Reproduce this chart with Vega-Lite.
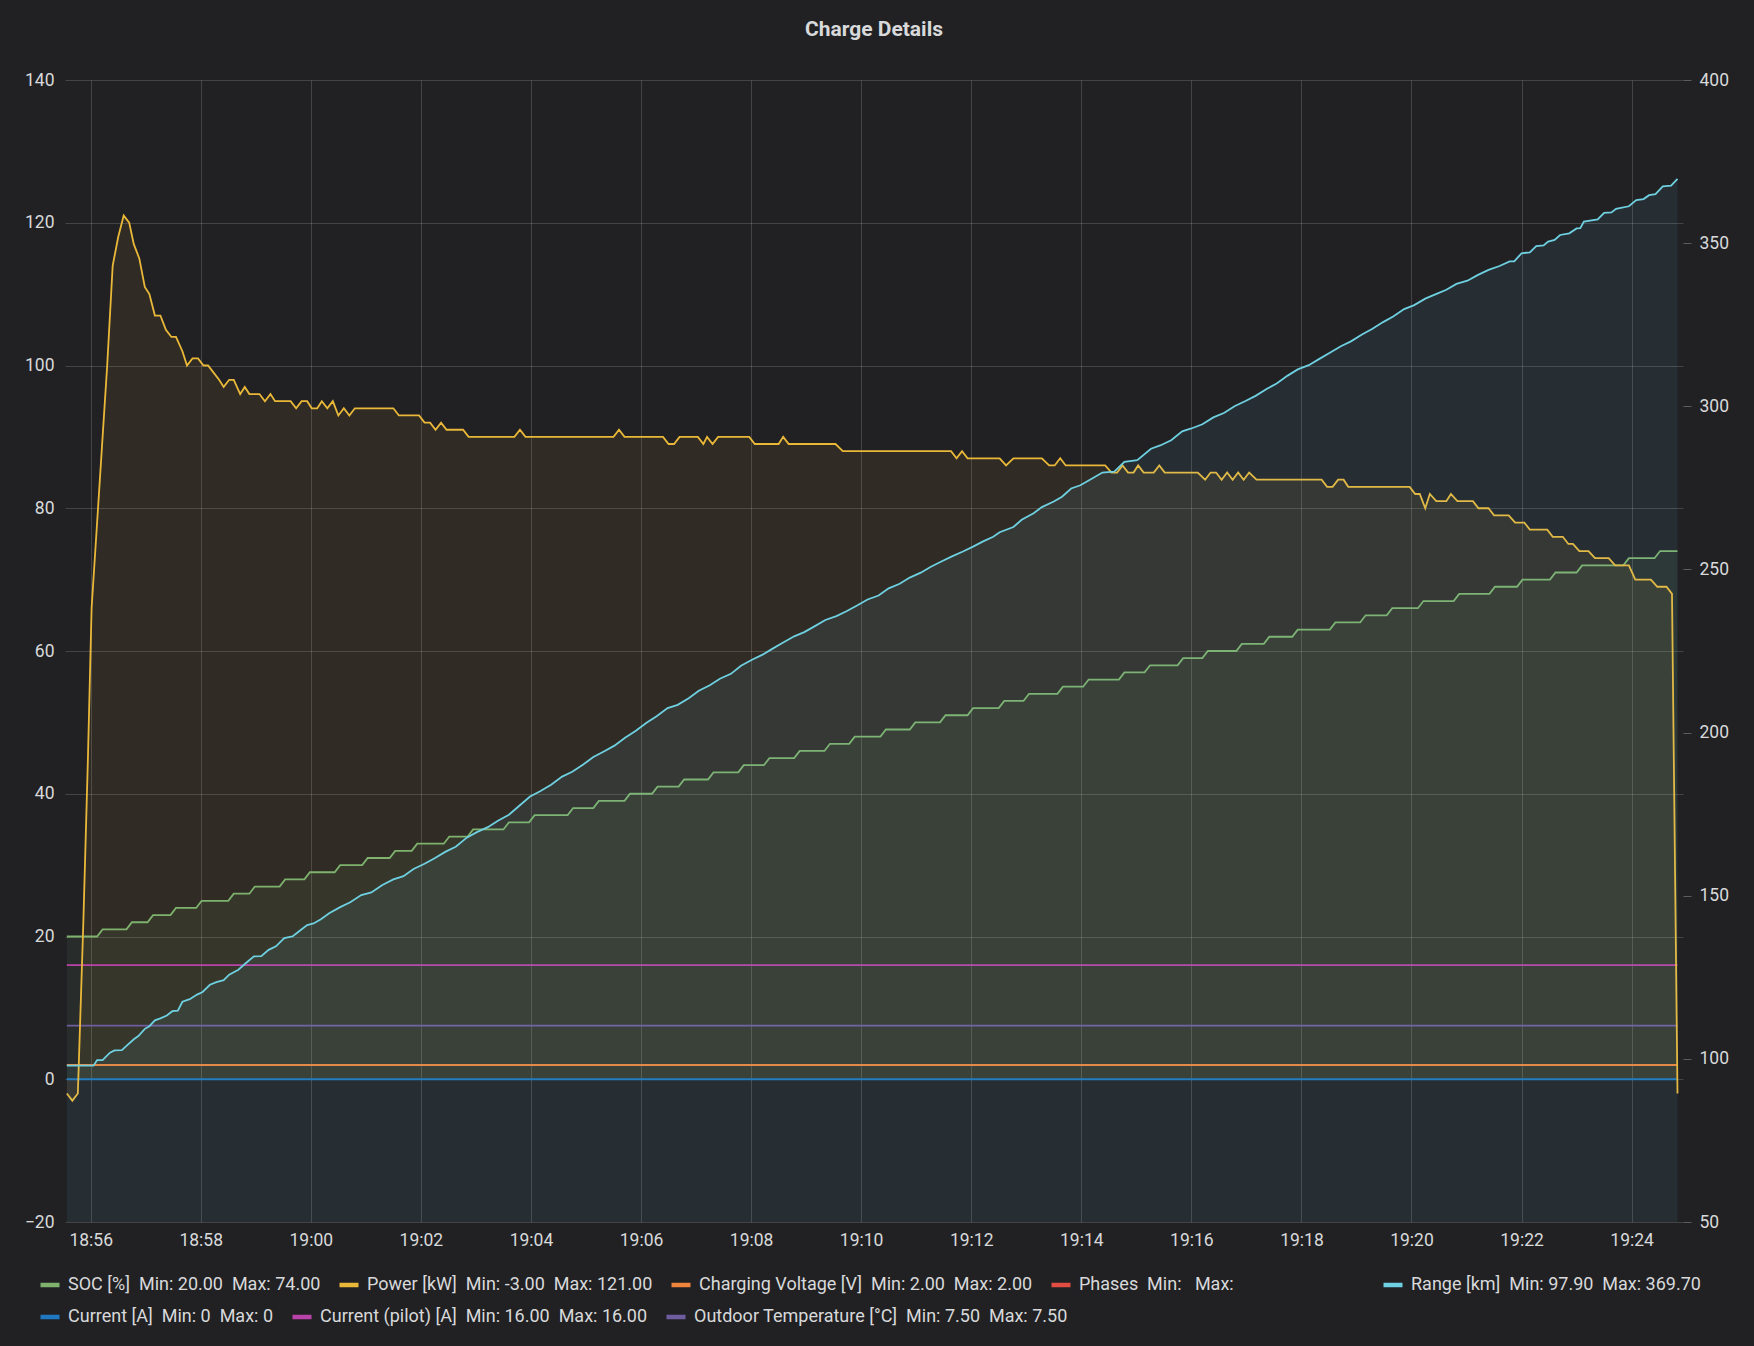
{
  "$schema": "https://vega.github.io/schema/vega-lite/v6.json",
  "width": 1618,
  "height": 1142,
  "autosize": "none",
  "padding": {"left": 65, "top": 80, "right": 71, "bottom": 124},
  "background": "#212124",
  "title": {
    "text": "Charge Details",
    "font": "Roboto",
    "fontSize": 21,
    "fontWeight": "bold",
    "color": "#d8d9da",
    "anchor": "middle",
    "offset": 31
  },
  "config": {
    "font": "Roboto",
    "view": {"stroke": null},
    "axis": {
      "labelFont": "Roboto",
      "labelFontSize": 17.5,
      "labelColor": "#d8d9da",
      "gridColor": "#ffffff",
      "gridOpacity": 0.16,
      "domain": false,
      "title": null
    },
    "legend": {
      "orient": "none",
      "title": null,
      "padding": 0,
      "direction": "horizontal",
      "symbolType": "stroke",
      "symbolStrokeWidth": 4.5,
      "symbolSize": 361,
      "symbolOpacity": 1,
      "labelOffset": 6,
      "columnPadding": 9,
      "labelFont": "Roboto",
      "labelFontSize": 18,
      "labelColor": "#d8d9da",
      "labelLimit": 2000
    }
  },
  "resolve": {"scale": {"y": "independent", "color": "independent"}},
  "layer": [
    {
      "data": {
        "format": {"parse": {"t": "utc:'%H:%M:%S'"}},
        "values": [
          {"t": "18:55:34", "s": "cv", "v": 2}, {"t": "19:24:50", "s": "cv", "v": 2},
          {"t": "18:55:34", "s": "cur", "v": 0}, {"t": "19:24:50", "s": "cur", "v": 0},
          {"t": "18:55:34", "s": "pil", "v": 16}, {"t": "19:24:50", "s": "pil", "v": 16},
          {"t": "18:55:34", "s": "tmp", "v": 7.5}, {"t": "19:24:50", "s": "tmp", "v": 7.5},

          {"t": "18:55:34", "s": "soc", "v": 20}, {"t": "18:56:07", "s": "soc", "v": 20},
          {"t": "18:56:13", "s": "soc", "v": 21}, {"t": "18:56:39", "s": "soc", "v": 21},
          {"t": "18:56:45", "s": "soc", "v": 22}, {"t": "18:57:02", "s": "soc", "v": 22},
          {"t": "18:57:08", "s": "soc", "v": 23}, {"t": "18:57:27", "s": "soc", "v": 23},
          {"t": "18:57:33", "s": "soc", "v": 24}, {"t": "18:57:55", "s": "soc", "v": 24},
          {"t": "18:58:01", "s": "soc", "v": 25}, {"t": "18:58:30", "s": "soc", "v": 25},
          {"t": "18:58:36", "s": "soc", "v": 26}, {"t": "18:58:53", "s": "soc", "v": 26},
          {"t": "18:58:59", "s": "soc", "v": 27}, {"t": "18:59:26", "s": "soc", "v": 27},
          {"t": "18:59:32", "s": "soc", "v": 28}, {"t": "18:59:53", "s": "soc", "v": 28},
          {"t": "18:59:59", "s": "soc", "v": 29}, {"t": "19:00:26", "s": "soc", "v": 29},
          {"t": "19:00:32", "s": "soc", "v": 30}, {"t": "19:00:56", "s": "soc", "v": 30},
          {"t": "19:01:02", "s": "soc", "v": 31}, {"t": "19:01:26", "s": "soc", "v": 31},
          {"t": "19:01:32", "s": "soc", "v": 32}, {"t": "19:01:50", "s": "soc", "v": 32},
          {"t": "19:01:56", "s": "soc", "v": 33}, {"t": "19:02:25", "s": "soc", "v": 33},
          {"t": "19:02:31", "s": "soc", "v": 34}, {"t": "19:02:51", "s": "soc", "v": 34},
          {"t": "19:02:57", "s": "soc", "v": 35}, {"t": "19:03:30", "s": "soc", "v": 35},
          {"t": "19:03:36", "s": "soc", "v": 36}, {"t": "19:03:58", "s": "soc", "v": 36},
          {"t": "19:04:04", "s": "soc", "v": 37}, {"t": "19:04:40", "s": "soc", "v": 37},
          {"t": "19:04:46", "s": "soc", "v": 38}, {"t": "19:05:08", "s": "soc", "v": 38},
          {"t": "19:05:14", "s": "soc", "v": 39}, {"t": "19:05:42", "s": "soc", "v": 39},
          {"t": "19:05:48", "s": "soc", "v": 40}, {"t": "19:06:12", "s": "soc", "v": 40},
          {"t": "19:06:18", "s": "soc", "v": 41}, {"t": "19:06:41", "s": "soc", "v": 41},
          {"t": "19:06:47", "s": "soc", "v": 42}, {"t": "19:07:13", "s": "soc", "v": 42},
          {"t": "19:07:19", "s": "soc", "v": 43}, {"t": "19:07:46", "s": "soc", "v": 43},
          {"t": "19:07:52", "s": "soc", "v": 44}, {"t": "19:08:14", "s": "soc", "v": 44},
          {"t": "19:08:20", "s": "soc", "v": 45}, {"t": "19:08:47", "s": "soc", "v": 45},
          {"t": "19:08:53", "s": "soc", "v": 46}, {"t": "19:09:20", "s": "soc", "v": 46},
          {"t": "19:09:26", "s": "soc", "v": 47}, {"t": "19:09:47", "s": "soc", "v": 47},
          {"t": "19:09:53", "s": "soc", "v": 48}, {"t": "19:10:21", "s": "soc", "v": 48},
          {"t": "19:10:27", "s": "soc", "v": 49}, {"t": "19:10:53", "s": "soc", "v": 49},
          {"t": "19:10:59", "s": "soc", "v": 50}, {"t": "19:11:26", "s": "soc", "v": 50},
          {"t": "19:11:32", "s": "soc", "v": 51}, {"t": "19:11:56", "s": "soc", "v": 51},
          {"t": "19:12:02", "s": "soc", "v": 52}, {"t": "19:12:30", "s": "soc", "v": 52},
          {"t": "19:12:36", "s": "soc", "v": 53}, {"t": "19:12:57", "s": "soc", "v": 53},
          {"t": "19:13:03", "s": "soc", "v": 54}, {"t": "19:13:34", "s": "soc", "v": 54},
          {"t": "19:13:40", "s": "soc", "v": 55}, {"t": "19:14:02", "s": "soc", "v": 55},
          {"t": "19:14:08", "s": "soc", "v": 56}, {"t": "19:14:41", "s": "soc", "v": 56},
          {"t": "19:14:47", "s": "soc", "v": 57}, {"t": "19:15:09", "s": "soc", "v": 57},
          {"t": "19:15:15", "s": "soc", "v": 58}, {"t": "19:15:45", "s": "soc", "v": 58},
          {"t": "19:15:51", "s": "soc", "v": 59}, {"t": "19:16:12", "s": "soc", "v": 59},
          {"t": "19:16:18", "s": "soc", "v": 60}, {"t": "19:16:49", "s": "soc", "v": 60},
          {"t": "19:16:55", "s": "soc", "v": 61}, {"t": "19:17:19", "s": "soc", "v": 61},
          {"t": "19:17:25", "s": "soc", "v": 62}, {"t": "19:17:50", "s": "soc", "v": 62},
          {"t": "19:17:56", "s": "soc", "v": 63}, {"t": "19:18:31", "s": "soc", "v": 63},
          {"t": "19:18:37", "s": "soc", "v": 64}, {"t": "19:19:04", "s": "soc", "v": 64},
          {"t": "19:19:10", "s": "soc", "v": 65}, {"t": "19:19:33", "s": "soc", "v": 65},
          {"t": "19:19:39", "s": "soc", "v": 66}, {"t": "19:20:07", "s": "soc", "v": 66},
          {"t": "19:20:13", "s": "soc", "v": 67}, {"t": "19:20:46", "s": "soc", "v": 67},
          {"t": "19:20:52", "s": "soc", "v": 68}, {"t": "19:21:25", "s": "soc", "v": 68},
          {"t": "19:21:31", "s": "soc", "v": 69}, {"t": "19:21:55", "s": "soc", "v": 69},
          {"t": "19:22:01", "s": "soc", "v": 70}, {"t": "19:22:31", "s": "soc", "v": 70},
          {"t": "19:22:37", "s": "soc", "v": 71}, {"t": "19:23:00", "s": "soc", "v": 71},
          {"t": "19:23:06", "s": "soc", "v": 72}, {"t": "19:23:51", "s": "soc", "v": 72},
          {"t": "19:23:57", "s": "soc", "v": 73}, {"t": "19:24:25", "s": "soc", "v": 73},
          {"t": "19:24:31", "s": "soc", "v": 74}, {"t": "19:24:50", "s": "soc", "v": 74},

          {"t": "18:55:34", "s": "pw", "v": -2}, {"t": "18:55:40", "s": "pw", "v": -3},
          {"t": "18:55:46", "s": "pw", "v": -2}, {"t": "18:55:52", "s": "pw", "v": 22},
          {"t": "18:55:57", "s": "pw", "v": 45}, {"t": "18:56:01", "s": "pw", "v": 66},
          {"t": "18:56:07", "s": "pw", "v": 78}, {"t": "18:56:12", "s": "pw", "v": 88},
          {"t": "18:56:18", "s": "pw", "v": 100}, {"t": "18:56:24", "s": "pw", "v": 114},
          {"t": "18:56:30", "s": "pw", "v": 118}, {"t": "18:56:36", "s": "pw", "v": 121},
          {"t": "18:56:42", "s": "pw", "v": 120}, {"t": "18:56:47", "s": "pw", "v": 117},
          {"t": "18:56:53", "s": "pw", "v": 115}, {"t": "18:56:59", "s": "pw", "v": 111},
          {"t": "18:57:04", "s": "pw", "v": 110}, {"t": "18:57:10", "s": "pw", "v": 107},
          {"t": "18:57:16", "s": "pw", "v": 107}, {"t": "18:57:22", "s": "pw", "v": 105},
          {"t": "18:57:28", "s": "pw", "v": 104}, {"t": "18:57:33", "s": "pw", "v": 104},
          {"t": "18:57:40", "s": "pw", "v": 102}, {"t": "18:57:45", "s": "pw", "v": 100},
          {"t": "18:57:51", "s": "pw", "v": 101}, {"t": "18:57:57", "s": "pw", "v": 101},
          {"t": "18:58:03", "s": "pw", "v": 100}, {"t": "18:58:08", "s": "pw", "v": 100},
          {"t": "18:58:14", "s": "pw", "v": 99}, {"t": "18:58:20", "s": "pw", "v": 98},
          {"t": "18:58:25", "s": "pw", "v": 97}, {"t": "18:58:31", "s": "pw", "v": 98},
          {"t": "18:58:36", "s": "pw", "v": 98}, {"t": "18:58:43", "s": "pw", "v": 96},
          {"t": "18:58:48", "s": "pw", "v": 97}, {"t": "18:58:53", "s": "pw", "v": 96},
          {"t": "18:59:04", "s": "pw", "v": 96}, {"t": "18:59:10", "s": "pw", "v": 95},
          {"t": "18:59:16", "s": "pw", "v": 96}, {"t": "18:59:21", "s": "pw", "v": 95},
          {"t": "18:59:38", "s": "pw", "v": 95}, {"t": "18:59:44", "s": "pw", "v": 94},
          {"t": "18:59:50", "s": "pw", "v": 95}, {"t": "18:59:56", "s": "pw", "v": 95},
          {"t": "19:00:01", "s": "pw", "v": 94}, {"t": "19:00:07", "s": "pw", "v": 94},
          {"t": "19:00:12", "s": "pw", "v": 95}, {"t": "19:00:18", "s": "pw", "v": 94},
          {"t": "19:00:24", "s": "pw", "v": 95}, {"t": "19:00:30", "s": "pw", "v": 93},
          {"t": "19:00:36", "s": "pw", "v": 94}, {"t": "19:00:42", "s": "pw", "v": 93},
          {"t": "19:00:48", "s": "pw", "v": 94}, {"t": "19:01:30", "s": "pw", "v": 94},
          {"t": "19:01:36", "s": "pw", "v": 93}, {"t": "19:01:58", "s": "pw", "v": 93},
          {"t": "19:02:04", "s": "pw", "v": 92}, {"t": "19:02:10", "s": "pw", "v": 92},
          {"t": "19:02:16", "s": "pw", "v": 91}, {"t": "19:02:22", "s": "pw", "v": 92},
          {"t": "19:02:28", "s": "pw", "v": 91}, {"t": "19:02:46", "s": "pw", "v": 91},
          {"t": "19:02:52", "s": "pw", "v": 90}, {"t": "19:03:42", "s": "pw", "v": 90},
          {"t": "19:03:48", "s": "pw", "v": 91}, {"t": "19:03:54", "s": "pw", "v": 90},
          {"t": "19:05:30", "s": "pw", "v": 90}, {"t": "19:05:36", "s": "pw", "v": 91},
          {"t": "19:05:42", "s": "pw", "v": 90}, {"t": "19:06:24", "s": "pw", "v": 90},
          {"t": "19:06:30", "s": "pw", "v": 89}, {"t": "19:06:36", "s": "pw", "v": 89},
          {"t": "19:06:42", "s": "pw", "v": 90}, {"t": "19:07:02", "s": "pw", "v": 90},
          {"t": "19:07:08", "s": "pw", "v": 89}, {"t": "19:07:12", "s": "pw", "v": 90},
          {"t": "19:07:18", "s": "pw", "v": 89}, {"t": "19:07:24", "s": "pw", "v": 90},
          {"t": "19:07:58", "s": "pw", "v": 90}, {"t": "19:08:04", "s": "pw", "v": 89},
          {"t": "19:08:30", "s": "pw", "v": 89}, {"t": "19:08:35", "s": "pw", "v": 90},
          {"t": "19:08:41", "s": "pw", "v": 89}, {"t": "19:09:32", "s": "pw", "v": 89},
          {"t": "19:09:40", "s": "pw", "v": 88}, {"t": "19:11:38", "s": "pw", "v": 88},
          {"t": "19:11:44", "s": "pw", "v": 87}, {"t": "19:11:50", "s": "pw", "v": 88},
          {"t": "19:11:56", "s": "pw", "v": 87}, {"t": "19:12:31", "s": "pw", "v": 87},
          {"t": "19:12:38", "s": "pw", "v": 86}, {"t": "19:12:46", "s": "pw", "v": 87},
          {"t": "19:13:17", "s": "pw", "v": 87}, {"t": "19:13:25", "s": "pw", "v": 86},
          {"t": "19:13:31", "s": "pw", "v": 86}, {"t": "19:13:37", "s": "pw", "v": 87},
          {"t": "19:13:43", "s": "pw", "v": 86}, {"t": "19:14:26", "s": "pw", "v": 86},
          {"t": "19:14:33", "s": "pw", "v": 85}, {"t": "19:14:39", "s": "pw", "v": 85},
          {"t": "19:14:45", "s": "pw", "v": 86}, {"t": "19:14:51", "s": "pw", "v": 85},
          {"t": "19:14:57", "s": "pw", "v": 85}, {"t": "19:15:02", "s": "pw", "v": 86},
          {"t": "19:15:08", "s": "pw", "v": 85}, {"t": "19:15:19", "s": "pw", "v": 85},
          {"t": "19:15:25", "s": "pw", "v": 86}, {"t": "19:15:31", "s": "pw", "v": 85},
          {"t": "19:16:07", "s": "pw", "v": 85}, {"t": "19:16:15", "s": "pw", "v": 84},
          {"t": "19:16:21", "s": "pw", "v": 85}, {"t": "19:16:27", "s": "pw", "v": 85},
          {"t": "19:16:33", "s": "pw", "v": 84}, {"t": "19:16:39", "s": "pw", "v": 85},
          {"t": "19:16:45", "s": "pw", "v": 84}, {"t": "19:16:51", "s": "pw", "v": 85},
          {"t": "19:16:57", "s": "pw", "v": 84}, {"t": "19:17:03", "s": "pw", "v": 85},
          {"t": "19:17:11", "s": "pw", "v": 84}, {"t": "19:18:22", "s": "pw", "v": 84},
          {"t": "19:18:28", "s": "pw", "v": 83}, {"t": "19:18:34", "s": "pw", "v": 83},
          {"t": "19:18:40", "s": "pw", "v": 84}, {"t": "19:18:46", "s": "pw", "v": 84},
          {"t": "19:18:51", "s": "pw", "v": 83}, {"t": "19:19:58", "s": "pw", "v": 83},
          {"t": "19:20:04", "s": "pw", "v": 82}, {"t": "19:20:09", "s": "pw", "v": 82},
          {"t": "19:20:15", "s": "pw", "v": 80}, {"t": "19:20:20", "s": "pw", "v": 82},
          {"t": "19:20:27", "s": "pw", "v": 81}, {"t": "19:20:38", "s": "pw", "v": 81},
          {"t": "19:20:43", "s": "pw", "v": 82}, {"t": "19:20:50", "s": "pw", "v": 81},
          {"t": "19:21:07", "s": "pw", "v": 81}, {"t": "19:21:13", "s": "pw", "v": 80},
          {"t": "19:21:24", "s": "pw", "v": 80}, {"t": "19:21:30", "s": "pw", "v": 79},
          {"t": "19:21:46", "s": "pw", "v": 79}, {"t": "19:21:53", "s": "pw", "v": 78},
          {"t": "19:22:03", "s": "pw", "v": 78}, {"t": "19:22:09", "s": "pw", "v": 77},
          {"t": "19:22:28", "s": "pw", "v": 77}, {"t": "19:22:34", "s": "pw", "v": 76},
          {"t": "19:22:45", "s": "pw", "v": 76}, {"t": "19:22:51", "s": "pw", "v": 75},
          {"t": "19:22:56", "s": "pw", "v": 75}, {"t": "19:23:03", "s": "pw", "v": 74},
          {"t": "19:23:13", "s": "pw", "v": 74}, {"t": "19:23:20", "s": "pw", "v": 73},
          {"t": "19:23:35", "s": "pw", "v": 73}, {"t": "19:23:42", "s": "pw", "v": 72},
          {"t": "19:23:57", "s": "pw", "v": 72}, {"t": "19:24:04", "s": "pw", "v": 70},
          {"t": "19:24:21", "s": "pw", "v": 70}, {"t": "19:24:28", "s": "pw", "v": 69},
          {"t": "19:24:38", "s": "pw", "v": 69}, {"t": "19:24:44", "s": "pw", "v": 68},
          {"t": "19:24:50", "s": "pw", "v": -2}
        ]
      },
      "encoding": {
        "x": {
          "field": "t",
          "type": "temporal",
          "scale": {
            "type": "utc",
            "domain": [
              {"year": 1900, "month": 1, "date": 1, "hours": 18, "minutes": 55, "seconds": 32, "utc": true},
              {"year": 1900, "month": 1, "date": 1, "hours": 19, "minutes": 24, "seconds": 56, "utc": true}
            ]
          },
          "axis": {
            "format": "%H:%M",
            "values": [
              {"year": 1900, "month": 1, "date": 1, "hours": 18, "minutes": 56, "utc": true},
              {"year": 1900, "month": 1, "date": 1, "hours": 18, "minutes": 58, "utc": true},
              {"year": 1900, "month": 1, "date": 1, "hours": 19, "minutes": 0, "utc": true},
              {"year": 1900, "month": 1, "date": 1, "hours": 19, "minutes": 2, "utc": true},
              {"year": 1900, "month": 1, "date": 1, "hours": 19, "minutes": 4, "utc": true},
              {"year": 1900, "month": 1, "date": 1, "hours": 19, "minutes": 6, "utc": true},
              {"year": 1900, "month": 1, "date": 1, "hours": 19, "minutes": 8, "utc": true},
              {"year": 1900, "month": 1, "date": 1, "hours": 19, "minutes": 10, "utc": true},
              {"year": 1900, "month": 1, "date": 1, "hours": 19, "minutes": 12, "utc": true},
              {"year": 1900, "month": 1, "date": 1, "hours": 19, "minutes": 14, "utc": true},
              {"year": 1900, "month": 1, "date": 1, "hours": 19, "minutes": 16, "utc": true},
              {"year": 1900, "month": 1, "date": 1, "hours": 19, "minutes": 18, "utc": true},
              {"year": 1900, "month": 1, "date": 1, "hours": 19, "minutes": 20, "utc": true},
              {"year": 1900, "month": 1, "date": 1, "hours": 19, "minutes": 22, "utc": true},
              {"year": 1900, "month": 1, "date": 1, "hours": 19, "minutes": 24, "utc": true}
            ],
            "grid": true,
            "ticks": false,
            "labelPadding": 9,
            "labelFlush": false,
            "labelOverlap": false
          }
        },
        "y": {
          "field": "v",
          "type": "quantitative",
          "scale": {"domain": [-20, 140], "nice": false, "zero": false},
          "axis": {
            "orient": "left",
            "values": [-20, 0, 20, 40, 60, 80, 100, 120, 140],
            "grid": true,
            "ticks": false,
            "labelPadding": 11
          }
        }
      },
      "layer": [
        {
          "transform": [{"filter": "datum.s == 'soc' || datum.s == 'pw'"}],
          "mark": {"type": "area", "fillOpacity": 0.08},
          "encoding": {
            "y": {"field": "v", "type": "quantitative", "stack": null},
            "y2": {"datum": 0},
            "fill": {
              "field": "s",
              "type": "nominal",
              "scale": {"domain": ["soc", "pw"], "range": ["#7EB26D", "#EAB839"]},
              "legend": null
            }
          }
        },
        {
          "transform": [{"filter": "datum.s == 'cur' || datum.s == 'pil' || datum.s == 'tmp'"}],
          "mark": {"type": "line", "strokeWidth": 1.8},
          "encoding": {
            "stroke": {
              "field": "s",
              "type": "nominal",
              "scale": {
                "domain": ["cur", "pil", "tmp"],
                "range": ["#1F78C1", "#BA43A9", "#705DA0"]
              },
              "legend": {
                "legendX": -27,
                "legendY": 1225,
                "labelExpr": "datum.label == 'cur' ? 'Current [A]\u00a0\u00a0Min: 0\u00a0\u00a0Max: 0' : datum.label == 'pil' ? 'Current (pilot) [A]\u00a0\u00a0Min: 16.00\u00a0\u00a0Max: 16.00' : 'Outdoor Temperature [°C]\u00a0\u00a0Min: 7.50\u00a0\u00a0Max: 7.50'"
              }
            }
          }
        },
        {
          "transform": [{"filter": "datum.s == 'soc' || datum.s == 'pw' || datum.s == 'cv'"}],
          "mark": {"type": "line", "strokeWidth": 1.8},
          "encoding": {
            "color": {
              "field": "s",
              "type": "nominal",
              "scale": {
                "domain": ["soc", "pw", "cv", "ph"],
                "range": ["#7EB26D", "#EAB839", "#EF843C", "#E24D42"]
              },
              "legend": {
                "legendX": -27,
                "legendY": 1193,
                "labelExpr": "datum.label == 'soc' ? 'SOC [%]\u00a0\u00a0Min: 20.00\u00a0\u00a0Max: 74.00' : datum.label == 'pw' ? 'Power [kW]\u00a0\u00a0Min: -3.00\u00a0\u00a0Max: 121.00' : datum.label == 'cv' ? 'Charging Voltage [V]\u00a0\u00a0Min: 2.00\u00a0\u00a0Max: 2.00' : 'Phases\u00a0\u00a0Min:\u00a0\u00a0\u00a0Max:'"
              }
            }
          }
        }
      ]
    },
    {
      "data": {
        "format": {"parse": {"t": "utc:'%H:%M:%S'"}},
        "values": [
          {"t": "18:55:34", "s": "rng", "v": 97.9}, {"t": "18:56:03", "s": "rng", "v": 97.9},
          {"t": "18:56:07", "s": "rng", "v": 99.6}, {"t": "18:56:13", "s": "rng", "v": 99.6},
          {"t": "18:56:21", "s": "rng", "v": 101.9}, {"t": "18:56:26", "s": "rng", "v": 102.6},
          {"t": "18:56:34", "s": "rng", "v": 102.7}, {"t": "18:56:39", "s": "rng", "v": 104},
          {"t": "18:56:47", "s": "rng", "v": 106}, {"t": "18:56:52", "s": "rng", "v": 107},
          {"t": "18:56:59", "s": "rng", "v": 109.2}, {"t": "18:57:04", "s": "rng", "v": 110},
          {"t": "18:57:10", "s": "rng", "v": 111.8}, {"t": "18:57:16", "s": "rng", "v": 112.4},
          {"t": "18:57:23", "s": "rng", "v": 113.3}, {"t": "18:57:29", "s": "rng", "v": 114.6},
          {"t": "18:57:35", "s": "rng", "v": 114.8}, {"t": "18:57:40", "s": "rng", "v": 117.5},
          {"t": "18:57:48", "s": "rng", "v": 118.3}, {"t": "18:57:56", "s": "rng", "v": 119.7},
          {"t": "18:58:02", "s": "rng", "v": 120.5}, {"t": "18:58:10", "s": "rng", "v": 122.7},
          {"t": "18:58:17", "s": "rng", "v": 123.5}, {"t": "18:58:25", "s": "rng", "v": 124.1},
          {"t": "18:58:31", "s": "rng", "v": 125.8}, {"t": "18:58:41", "s": "rng", "v": 127.3},
          {"t": "18:58:49", "s": "rng", "v": 129.3}, {"t": "18:58:58", "s": "rng", "v": 131.4},
          {"t": "18:59:06", "s": "rng", "v": 131.5}, {"t": "18:59:14", "s": "rng", "v": 133.4},
          {"t": "18:59:22", "s": "rng", "v": 134.5}, {"t": "18:59:31", "s": "rng", "v": 137},
          {"t": "18:59:40", "s": "rng", "v": 137.5}, {"t": "18:59:49", "s": "rng", "v": 139.5},
          {"t": "18:59:56", "s": "rng", "v": 141}, {"t": "19:00:03", "s": "rng", "v": 141.5},
          {"t": "19:00:11", "s": "rng", "v": 142.8}, {"t": "19:00:20", "s": "rng", "v": 144.6},
          {"t": "19:00:32", "s": "rng", "v": 146.5}, {"t": "19:00:43", "s": "rng", "v": 148},
          {"t": "19:00:55", "s": "rng", "v": 150.2}, {"t": "19:01:06", "s": "rng", "v": 151},
          {"t": "19:01:18", "s": "rng", "v": 153.3}, {"t": "19:01:30", "s": "rng", "v": 155},
          {"t": "19:01:41", "s": "rng", "v": 156}, {"t": "19:01:52", "s": "rng", "v": 158.2},
          {"t": "19:02:04", "s": "rng", "v": 159.8}, {"t": "19:02:15", "s": "rng", "v": 161.5},
          {"t": "19:02:27", "s": "rng", "v": 163.5}, {"t": "19:02:38", "s": "rng", "v": 165},
          {"t": "19:02:50", "s": "rng", "v": 167.8}, {"t": "19:03:01", "s": "rng", "v": 169.5},
          {"t": "19:03:13", "s": "rng", "v": 171}, {"t": "19:03:24", "s": "rng", "v": 173},
          {"t": "19:03:36", "s": "rng", "v": 174.8}, {"t": "19:03:47", "s": "rng", "v": 177.5},
          {"t": "19:03:59", "s": "rng", "v": 180.4}, {"t": "19:04:10", "s": "rng", "v": 182},
          {"t": "19:04:22", "s": "rng", "v": 184}, {"t": "19:04:34", "s": "rng", "v": 186.5},
          {"t": "19:04:45", "s": "rng", "v": 188}, {"t": "19:04:57", "s": "rng", "v": 190.2},
          {"t": "19:05:08", "s": "rng", "v": 192.5}, {"t": "19:05:20", "s": "rng", "v": 194.3},
          {"t": "19:05:31", "s": "rng", "v": 196}, {"t": "19:05:43", "s": "rng", "v": 198.5},
          {"t": "19:05:54", "s": "rng", "v": 200.5}, {"t": "19:06:06", "s": "rng", "v": 203},
          {"t": "19:06:17", "s": "rng", "v": 205}, {"t": "19:06:29", "s": "rng", "v": 207.5},
          {"t": "19:06:40", "s": "rng", "v": 208.5}, {"t": "19:06:52", "s": "rng", "v": 210.5},
          {"t": "19:07:03", "s": "rng", "v": 212.8}, {"t": "19:07:15", "s": "rng", "v": 214.5},
          {"t": "19:07:26", "s": "rng", "v": 216.5}, {"t": "19:07:38", "s": "rng", "v": 218},
          {"t": "19:07:49", "s": "rng", "v": 220.5}, {"t": "19:08:01", "s": "rng", "v": 222.3},
          {"t": "19:08:12", "s": "rng", "v": 223.8}, {"t": "19:08:24", "s": "rng", "v": 225.8},
          {"t": "19:08:35", "s": "rng", "v": 227.6}, {"t": "19:08:47", "s": "rng", "v": 229.5},
          {"t": "19:08:58", "s": "rng", "v": 230.8}, {"t": "19:09:10", "s": "rng", "v": 232.7},
          {"t": "19:09:21", "s": "rng", "v": 234.5}, {"t": "19:09:33", "s": "rng", "v": 235.7},
          {"t": "19:09:44", "s": "rng", "v": 237.2}, {"t": "19:09:56", "s": "rng", "v": 239},
          {"t": "19:10:07", "s": "rng", "v": 240.8}, {"t": "19:10:19", "s": "rng", "v": 242},
          {"t": "19:10:30", "s": "rng", "v": 244.2}, {"t": "19:10:42", "s": "rng", "v": 245.6},
          {"t": "19:10:53", "s": "rng", "v": 247.5}, {"t": "19:11:05", "s": "rng", "v": 249},
          {"t": "19:11:16", "s": "rng", "v": 250.8}, {"t": "19:11:28", "s": "rng", "v": 252.5},
          {"t": "19:11:39", "s": "rng", "v": 254}, {"t": "19:11:51", "s": "rng", "v": 255.5},
          {"t": "19:12:02", "s": "rng", "v": 257}, {"t": "19:12:13", "s": "rng", "v": 258.6},
          {"t": "19:12:24", "s": "rng", "v": 260}, {"t": "19:12:31", "s": "rng", "v": 261.4},
          {"t": "19:12:46", "s": "rng", "v": 263}, {"t": "19:12:55", "s": "rng", "v": 265.2},
          {"t": "19:13:08", "s": "rng", "v": 267.2}, {"t": "19:13:17", "s": "rng", "v": 269.1},
          {"t": "19:13:30", "s": "rng", "v": 270.8}, {"t": "19:13:39", "s": "rng", "v": 272.3},
          {"t": "19:13:49", "s": "rng", "v": 274.8}, {"t": "19:13:59", "s": "rng", "v": 275.8},
          {"t": "19:14:09", "s": "rng", "v": 277.4}, {"t": "19:14:23", "s": "rng", "v": 279.7},
          {"t": "19:14:36", "s": "rng", "v": 280}, {"t": "19:14:47", "s": "rng", "v": 283},
          {"t": "19:15:01", "s": "rng", "v": 283.5}, {"t": "19:15:16", "s": "rng", "v": 287},
          {"t": "19:15:26", "s": "rng", "v": 288}, {"t": "19:15:38", "s": "rng", "v": 289.6},
          {"t": "19:15:50", "s": "rng", "v": 292.3}, {"t": "19:16:00", "s": "rng", "v": 293.2},
          {"t": "19:16:12", "s": "rng", "v": 294.5}, {"t": "19:16:24", "s": "rng", "v": 296.6},
          {"t": "19:16:36", "s": "rng", "v": 298}, {"t": "19:16:47", "s": "rng", "v": 300},
          {"t": "19:16:59", "s": "rng", "v": 301.6}, {"t": "19:17:10", "s": "rng", "v": 303.2},
          {"t": "19:17:22", "s": "rng", "v": 305.3}, {"t": "19:17:33", "s": "rng", "v": 307},
          {"t": "19:17:45", "s": "rng", "v": 309.4}, {"t": "19:17:56", "s": "rng", "v": 311.3},
          {"t": "19:18:08", "s": "rng", "v": 312.6}, {"t": "19:18:20", "s": "rng", "v": 314.6},
          {"t": "19:18:31", "s": "rng", "v": 316.4}, {"t": "19:18:43", "s": "rng", "v": 318.4},
          {"t": "19:18:54", "s": "rng", "v": 319.9}, {"t": "19:19:06", "s": "rng", "v": 322},
          {"t": "19:19:17", "s": "rng", "v": 323.7}, {"t": "19:19:29", "s": "rng", "v": 325.8},
          {"t": "19:19:40", "s": "rng", "v": 327.5}, {"t": "19:19:52", "s": "rng", "v": 329.8},
          {"t": "19:20:03", "s": "rng", "v": 331}, {"t": "19:20:15", "s": "rng", "v": 333},
          {"t": "19:20:26", "s": "rng", "v": 334.3}, {"t": "19:20:38", "s": "rng", "v": 335.7},
          {"t": "19:20:49", "s": "rng", "v": 337.5}, {"t": "19:21:01", "s": "rng", "v": 338.5},
          {"t": "19:21:12", "s": "rng", "v": 340.2}, {"t": "19:21:24", "s": "rng", "v": 341.8},
          {"t": "19:21:36", "s": "rng", "v": 343}, {"t": "19:21:47", "s": "rng", "v": 344.4},
          {"t": "19:21:52", "s": "rng", "v": 344.4}, {"t": "19:22:00", "s": "rng", "v": 346.9},
          {"t": "19:22:09", "s": "rng", "v": 347.2}, {"t": "19:22:16", "s": "rng", "v": 349.1},
          {"t": "19:22:24", "s": "rng", "v": 349.3}, {"t": "19:22:29", "s": "rng", "v": 350.5},
          {"t": "19:22:36", "s": "rng", "v": 351}, {"t": "19:22:42", "s": "rng", "v": 352.5},
          {"t": "19:22:52", "s": "rng", "v": 353}, {"t": "19:23:00", "s": "rng", "v": 354.5},
          {"t": "19:23:04", "s": "rng", "v": 354.6}, {"t": "19:23:08", "s": "rng", "v": 356.6},
          {"t": "19:23:23", "s": "rng", "v": 357.3}, {"t": "19:23:30", "s": "rng", "v": 359.3},
          {"t": "19:23:38", "s": "rng", "v": 359.4}, {"t": "19:23:43", "s": "rng", "v": 360.5},
          {"t": "19:23:57", "s": "rng", "v": 361.3}, {"t": "19:24:05", "s": "rng", "v": 363.2},
          {"t": "19:24:13", "s": "rng", "v": 363.5}, {"t": "19:24:19", "s": "rng", "v": 364.7},
          {"t": "19:24:26", "s": "rng", "v": 365}, {"t": "19:24:34", "s": "rng", "v": 367.4},
          {"t": "19:24:43", "s": "rng", "v": 367.6}, {"t": "19:24:50", "s": "rng", "v": 369.7}
        ]
      },
      "encoding": {
        "x": {
          "field": "t",
          "type": "temporal",
          "scale": {
            "type": "utc",
            "domain": [
              {"year": 1900, "month": 1, "date": 1, "hours": 18, "minutes": 55, "seconds": 32, "utc": true},
              {"year": 1900, "month": 1, "date": 1, "hours": 19, "minutes": 24, "seconds": 56, "utc": true}
            ]
          },
          "axis": {
            "format": "%H:%M",
            "values": [
              {"year": 1900, "month": 1, "date": 1, "hours": 18, "minutes": 56, "utc": true},
              {"year": 1900, "month": 1, "date": 1, "hours": 18, "minutes": 58, "utc": true},
              {"year": 1900, "month": 1, "date": 1, "hours": 19, "minutes": 0, "utc": true},
              {"year": 1900, "month": 1, "date": 1, "hours": 19, "minutes": 2, "utc": true},
              {"year": 1900, "month": 1, "date": 1, "hours": 19, "minutes": 4, "utc": true},
              {"year": 1900, "month": 1, "date": 1, "hours": 19, "minutes": 6, "utc": true},
              {"year": 1900, "month": 1, "date": 1, "hours": 19, "minutes": 8, "utc": true},
              {"year": 1900, "month": 1, "date": 1, "hours": 19, "minutes": 10, "utc": true},
              {"year": 1900, "month": 1, "date": 1, "hours": 19, "minutes": 12, "utc": true},
              {"year": 1900, "month": 1, "date": 1, "hours": 19, "minutes": 14, "utc": true},
              {"year": 1900, "month": 1, "date": 1, "hours": 19, "minutes": 16, "utc": true},
              {"year": 1900, "month": 1, "date": 1, "hours": 19, "minutes": 18, "utc": true},
              {"year": 1900, "month": 1, "date": 1, "hours": 19, "minutes": 20, "utc": true},
              {"year": 1900, "month": 1, "date": 1, "hours": 19, "minutes": 22, "utc": true},
              {"year": 1900, "month": 1, "date": 1, "hours": 19, "minutes": 24, "utc": true}
            ],
            "grid": true,
            "ticks": false,
            "labelPadding": 9,
            "labelFlush": false,
            "labelOverlap": false
          }
        },
        "y": {
          "field": "v",
          "type": "quantitative",
          "scale": {"domain": [50, 400], "nice": false, "zero": false},
          "axis": {
            "orient": "right",
            "values": [50, 100, 150, 200, 250, 300, 350, 400],
            "grid": false,
            "ticks": true,
            "tickSize": 8,
            "tickColor": "#5c5c60",
            "labelPadding": 8
          }
        }
      },
      "layer": [
        {
          "mark": {"type": "area", "fillOpacity": 0.08, "color": "#6ED0E0"},
          "encoding": {
            "y2": {"datum": 50}
          }
        },
        {
          "mark": {"type": "line", "strokeWidth": 1.8},
          "encoding": {
            "color": {
              "field": "s",
              "type": "nominal",
              "scale": {"domain": ["rng"], "range": ["#6ED0E0"]},
              "legend": {
                "legendX": 1316,
                "legendY": 1193,
                "labelExpr": "'Range [km]\u00a0\u00a0Min: 97.90\u00a0\u00a0Max: 369.70'"
              }
            }
          }
        }
      ]
    }
  ]
}
